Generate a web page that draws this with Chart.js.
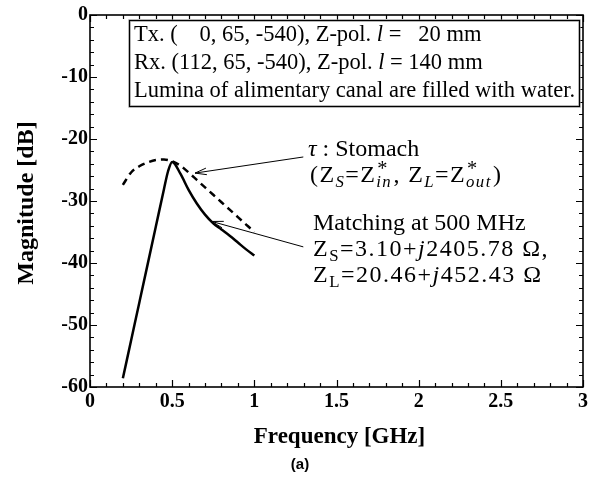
<!DOCTYPE html>
<html><head><meta charset="utf-8">
<script src="https://cdn.jsdelivr.net/npm/chart.js@4.4.0/dist/chart.umd.min.js"></script>
<style>html,body{margin:0;padding:0;background:#fff;}#wrap{width:602px;height:478px;}</style>
</head><body><div id="wrap"><canvas id="c" width="602" height="478"></canvas></div>
<script>
// ---- data ----
const solidFreq = [0.20,0.25,0.30,0.35,0.40,0.45,0.475,0.50,0.55,0.60,0.65,0.70,0.75,0.80,0.85,0.90,0.95,1.00];
const solidMag  = [-58.6,-52.5,-46.4,-40.3,-34.2,-28.1,-25.2,-23.7,-25.6,-28.2,-30.4,-32.2,-33.6,-34.6,-35.6,-36.7,-37.8,-38.8];
const dashFreq  = [0.20,0.25,0.30,0.35,0.40,0.45,0.50,0.55,0.60,0.65,0.70,0.75,0.80,0.85,0.90,0.95,1.00];
const dashMag   = [-27.4,-25.4,-24.4,-23.8,-23.4,-23.3,-23.6,-24.3,-25.4,-26.6,-27.8,-29.0,-30.2,-31.4,-32.6,-33.8,-35.0];
const xTickLabels = ['0','0.5','1','1.5','2','2.5','3'];
const yTickLabels = ['-60','-50','-40','-30','-20','-10','0'];
const xTitle = 'Frequency [GHz]';
const yTitle = 'Magnitude [dB]';
const caption = '(a)';

// annotation arrows in data coordinates: [fromX, fromY, toX, toY]
const arrows = [[1.298,-22.9,0.639,-25.5],[1.298,-37.4,0.741,-33.3]];

const SERIF = '"Liberation Serif", "Times New Roman", serif';

function pts(xs, ys){ return xs.map((x,i)=>({x:x,y:ys[i]})); }

function spacedText(ctx, str, x, y, ls){
  if (!ls){ ctx.fillText(str, x, y); return ctx.measureText(str).width; }
  let cx = x;
  for (const ch of str){ ctx.fillText(ch, cx, y); cx += ctx.measureText(ch).width + ls; }
  return cx - x;
}

function drawRich(ctx, x, y, segs, size, ls){
  ls = ls || 0;
  let cx = x;
  for (const s of segs){
    if (s.stack){
      ctx.font = (size*0.85)+'px '+SERIF;
      ctx.fillText(s.stack[0], cx+1, y - size*0.28);
      const w1 = ctx.measureText(s.stack[0]).width+1;
      ctx.font = 'italic '+(size*0.7)+'px '+SERIF;
      const w2 = spacedText(ctx, s.stack[1], cx, y + size*0.22, ls);
      cx += Math.max(w1,w2) + ls;
      continue;
    }
    const fs = s.sub ? size*0.7 : size;
    ctx.font = (s.it?'italic ':'') + fs + 'px ' + SERIF;
    const dy = s.sub ? size*0.22 : 0;
    if (s.padTo){
      ctx.font = size+'px '+SERIF;
      cx += ctx.measureText(s.padTo).width - ctx.measureText(s.t).width;
    }
    cx += spacedText(ctx, s.t, cx, y+dy, ls);
  }
}

const overlay = {
  id:'overlay',
  afterDraw(chart){
    const ctx = chart.ctx, a = chart.chartArea, xs = chart.scales.x, ys = chart.scales.y;
    ctx.save();
    ctx.strokeStyle = '#000'; ctx.fillStyle = '#000';
    // inward ticks
    ctx.lineWidth = 1.2;
    ctx.beginPath();
    for (let i=0;i<=30;i++){
      const v = i/10, px = Math.round(xs.getPixelForValue(v))+0.5;
      const L = (i%5===0)?7:4;
      ctx.moveTo(px,a.bottom); ctx.lineTo(px,a.bottom-L);
      ctx.moveTo(px,a.top); ctx.lineTo(px,a.top+L);
    }
    for (let v=-60; v<=0; v+=2){
      const py = Math.round(ys.getPixelForValue(v))+0.5;
      const L = (v%10===0)?7:4;
      ctx.moveTo(a.left,py); ctx.lineTo(a.left+L,py);
      ctx.moveTo(a.right,py); ctx.lineTo(a.right-L,py);
    }
    ctx.stroke();
    // frame
    ctx.lineWidth = 1.6;
    ctx.strokeRect(a.left, a.top, a.right-a.left, a.bottom-a.top);

    // info box
    ctx.fillStyle = '#fff';
    ctx.fillRect(129.5, 20.5, 450, 86);
    ctx.strokeStyle = '#888'; ctx.lineWidth = 2.2;
    ctx.strokeRect(129.5, 20.5, 450, 86);
    ctx.strokeStyle = '#000'; ctx.lineWidth = 1;
    ctx.strokeRect(129.5, 20.5, 450, 86);
    ctx.fillStyle = '#000';
    ctx.textBaseline = 'alphabetic'; ctx.textAlign = 'left';
    const B = 22.5;
    drawRich(ctx, 134, 41, [{t:'Tx. ('},{t:'0',padTo:'112'},{t:', 65, -540), Z-pol. '},{t:'l',it:true},{t:' = '},{t:'20',padTo:'140'},{t:' mm'}], B);
    drawRich(ctx, 134, 69, [{t:'Rx. (112, 65, -540), Z-pol. '},{t:'l',it:true},{t:' = 140 mm'}], B);
    drawRich(ctx, 134, 97, [{t:'Lumina of alimentary canal are filled with water.'}], B);

    // annotations
    const S = 24;
    drawRich(ctx, 308, 156, [{t:'\u03C4',it:true},{t:' : Stomach'}], S);
    drawRich(ctx, 310, 182, [{t:'(Z'},{t:'S',sub:true,it:true},{t:'=Z'},{stack:['*','in']},{t:', Z'},{t:'L',sub:true,it:true},{t:'=Z'},{stack:['*','out']},{t:')'}], S, 1.4);
    drawRich(ctx, 313, 230, [{t:'Matching at 500 MHz'}], S);
    drawRich(ctx, 313, 256, [{t:'Z'},{t:'S',sub:true},{t:'=3.10+'},{t:'j',it:true},{t:'2405.78 \u03A9,'}], S, 1.5);
    drawRich(ctx, 313, 282, [{t:'Z'},{t:'L',sub:true},{t:'=20.46+'},{t:'j',it:true},{t:'452.43 \u03A9'}], S, 1.5);

    // arrows
    ctx.lineWidth = 1; ctx.strokeStyle = '#000';
    for (const ar of arrows){
      const x0 = xs.getPixelForValue(ar[0]), y0 = ys.getPixelForValue(ar[1]);
      const x1 = xs.getPixelForValue(ar[2]), y1 = ys.getPixelForValue(ar[3]);
      const ang = Math.atan2(y1-y0, x1-x0), L = 12, sp = 0.28;
      ctx.beginPath();
      ctx.moveTo(x0,y0); ctx.lineTo(x1,y1);
      ctx.moveTo(x1 - L*Math.cos(ang-sp), y1 - L*Math.sin(ang-sp));
      ctx.lineTo(x1,y1);
      ctx.lineTo(x1 - L*Math.cos(ang+sp), y1 - L*Math.sin(ang+sp));
      ctx.stroke();
    }

    // axis titles
    ctx.fillStyle = '#000';
    ctx.textAlign = 'center'; ctx.textBaseline = 'middle';
    ctx.font = 'bold 23px '+SERIF;
    ctx.fillText(xTitle, (a.left+a.right)/2+3, 437);
    ctx.save();
    ctx.translate(27, (a.top+a.bottom)/2+2);
    ctx.rotate(-Math.PI/2);
    ctx.font = 'bold 24px '+SERIF;
    ctx.fillText(yTitle, 0, 0);
    ctx.restore();
    ctx.font = 'bold 15px "Liberation Sans", Arial, sans-serif';
    ctx.fillText(caption, 300, 465);
    ctx.restore();
  }
};

new Chart(document.getElementById('c'), {
  type:'scatter',
  data:{datasets:[
    {data:pts(dashFreq,dashMag), showLine:true, borderColor:'#000', borderWidth:2.5, borderDash:[7,5], pointRadius:0, cubicInterpolationMode:'monotone'},
    {data:pts(solidFreq,solidMag), showLine:true, borderColor:'#000', borderWidth:2.5, pointRadius:0, cubicInterpolationMode:'monotone'}
  ]},
  options:{
    responsive:false, animation:false, devicePixelRatio:1,
    layout:{padding:{left:0,top:15,right:19,bottom:0}},
    plugins:{legend:{display:false}, tooltip:{enabled:false}},
    scales:{
      x:{type:'linear', min:0, max:3,
        afterFit(s){ s.height = 91; },
        ticks:{stepSize:0.5, padding:3, color:'#000', font:{family:SERIF, size:20, weight:'bold'},
          callback:(v,i)=> xTickLabels[Math.round(v*2)] },
        grid:{display:false, drawTicks:false}, border:{display:false}},
      y:{type:'linear', min:-60, max:0,
        afterFit(s){ s.width = 90; },
        ticks:{stepSize:10, padding:2, color:'#000', font:{family:SERIF, size:20, weight:'bold'},
          callback:(v,i)=> yTickLabels[Math.round((v+60)/10)] },
        grid:{display:false, drawTicks:false}, border:{display:false}}
    }
  },
  plugins:[overlay]
});
</script></body></html>
